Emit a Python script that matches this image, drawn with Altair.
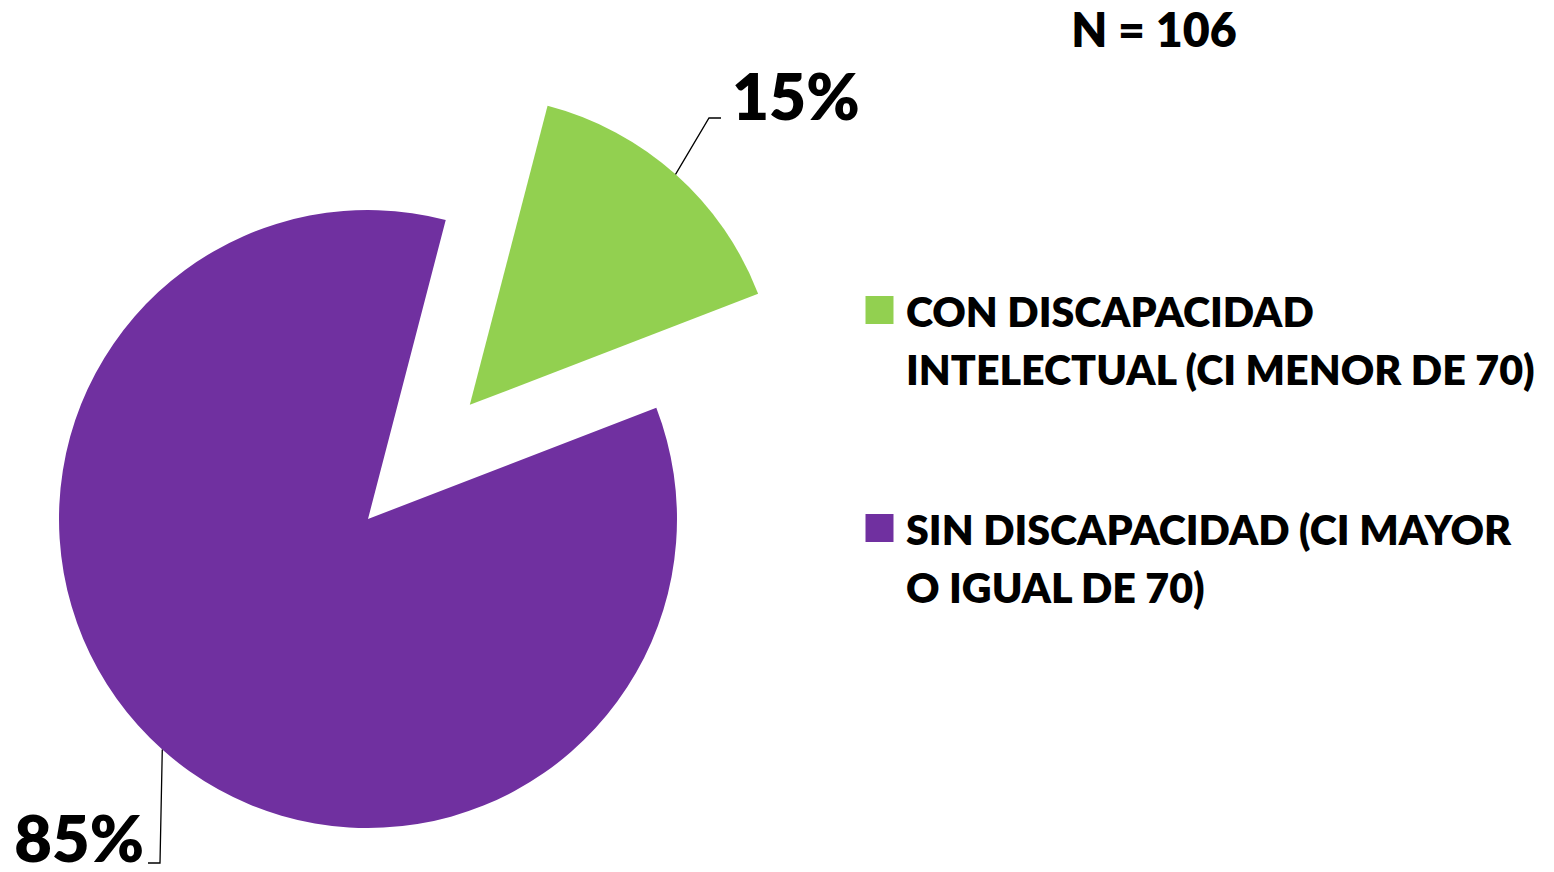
import math
import numpy as np
import pandas as pd
import altair as alt

# ---------------- data ----------------
categories = ["CON DISCAPACIDAD INTELECTUAL (CI MENOR DE 70)",
              "SIN DISCAPACIDAD (CI MAYOR O IGUAL DE 70)"]
legend_text = ["CON DISCAPACIDAD\nINTELECTUAL (CI MENOR DE 70)",
               "SIN DISCAPACIDAD (CI MAYOR\nO IGUAL DE 70)"]
counts = [16, 90]
pct_labels = ["15%", "85%"]
colors = ["#92D050", "#7030A0"]
explode = [0.495, 0.0]          # fraction of radius
n_text = "N = 106"

# ---------------- layout ----------------
W, H = 1538, 856
CX, CY, R = 360, 511, 309
START_DEG = 14.57
FONT = "Lato"
WEIGHT = 800
# label elbows / text anchors (layout)
label_elbow = [(701, 110), (152, 855)]
label_end = [(713, 110), (140, 855)]
label_anchor = [(724, 112, "left"), (136, 854, "right")]
LEG_X, LEG_Y0, LEG_STEP = 871.5, 302, 218
LEG_TX, LEG_TY0 = 898, 319

# ---------------- geometry tables ----------------
total = float(sum(counts))
cum = np.cumsum([0] + counts)
rows, leader, labels, legend = [], [], [], []
for i, cat in enumerate(categories):
    t0 = math.radians(START_DEG) + 2 * math.pi * cum[i] / total
    t1 = math.radians(START_DEG) + 2 * math.pi * cum[i + 1] / total
    tm = (t0 + t1) / 2
    d = explode[i] * R
    cx = CX + d * math.sin(tm)
    cy = CY - d * math.cos(tm)
    rows.append(dict(cat=cat, t0=t0, t1=t1, cx=cx, cy=cy))
    px = cx + R * math.sin(tm)
    py = cy - R * math.cos(tm)
    pts = [(px, py), label_elbow[i], label_end[i]]
    for k, (x, y) in enumerate(pts):
        leader.append(dict(cat=cat, k=k, x=x, y=y))
    ax, ay, al = label_anchor[i]
    labels.append(dict(cat=cat, text=pct_labels[i], x=ax, y=ay, align=al))
    legend.append(dict(cat=cat, text=legend_text[i],
                       sx=LEG_X, sy=LEG_Y0 + i * LEG_STEP,
                       tx=LEG_TX, ty=LEG_TY0 + i * LEG_STEP))

pie_df = pd.DataFrame(rows)
lead_df = pd.DataFrame(leader)
lab_df = pd.DataFrame(labels)
leg_df = pd.DataFrame(legend)

color = alt.Color("cat:N", scale=alt.Scale(domain=categories, range=colors), legend=None)

def X(f):
    return alt.X(f, type="quantitative", scale=None, axis=None)

def Y(f):
    return alt.Y(f, type="quantitative", scale=None, axis=None)

arcs = alt.Chart(pie_df).mark_arc(radius=R, stroke=None).encode(
    x=X("cx"), y=Y("cy"),
    theta=alt.Theta("t0:Q", scale=None),
    theta2="t1:Q",
    color=color,
)

lines = alt.Chart(lead_df).mark_line(color="black", strokeWidth=1.3).encode(
    x=X("x"), y=Y("y"), detail="cat:N", order="k:Q"
)

lab_left = alt.Chart(lab_df[lab_df["align"] == "left"]).mark_text(
    font=FONT, fontWeight=WEIGHT, fontSize=64, align="left", baseline="alphabetic", color="black"
).encode(x=X("x"), y=Y("y"), text="text:N")

lab_right = alt.Chart(lab_df[lab_df["align"] == "right"]).mark_text(
    font=FONT, fontWeight=WEIGHT, fontSize=65, align="right", baseline="alphabetic", color="black"
).encode(x=X("x"), y=Y("y"), text="text:N")

leg_sq = alt.Chart(leg_df).mark_square(size=28 * 28, opacity=1, filled=True).encode(
    x=X("sx"), y=Y("sy"), color=color
)

leg_txt = alt.Chart(leg_df).mark_text(
    font=FONT, fontWeight=WEIGHT, fontSize=41.2, align="left", baseline="alphabetic",
    lineBreak="\n", lineHeight=58, color="black"
).encode(x=X("tx"), y=Y("ty"), text="text:N")

n_df = pd.DataFrame({"text": [n_text]})
n_mark = alt.Chart(n_df).mark_text(
    font=FONT, fontWeight=WEIGHT, fontSize=46.5, align="center", baseline="alphabetic", color="black"
).encode(x=alt.value(1146), y=alt.value(39), text="text:N")

chart = alt.layer(arcs, lines, lab_left, lab_right, leg_sq, leg_txt, n_mark).properties(
    width=W, height=H, padding=0, autosize=alt.AutoSizeParams(type="none"),
    background="white",
).configure_view(stroke=None)

chart.save("out.html", embed_options={"renderer": "svg", "actions": False})
